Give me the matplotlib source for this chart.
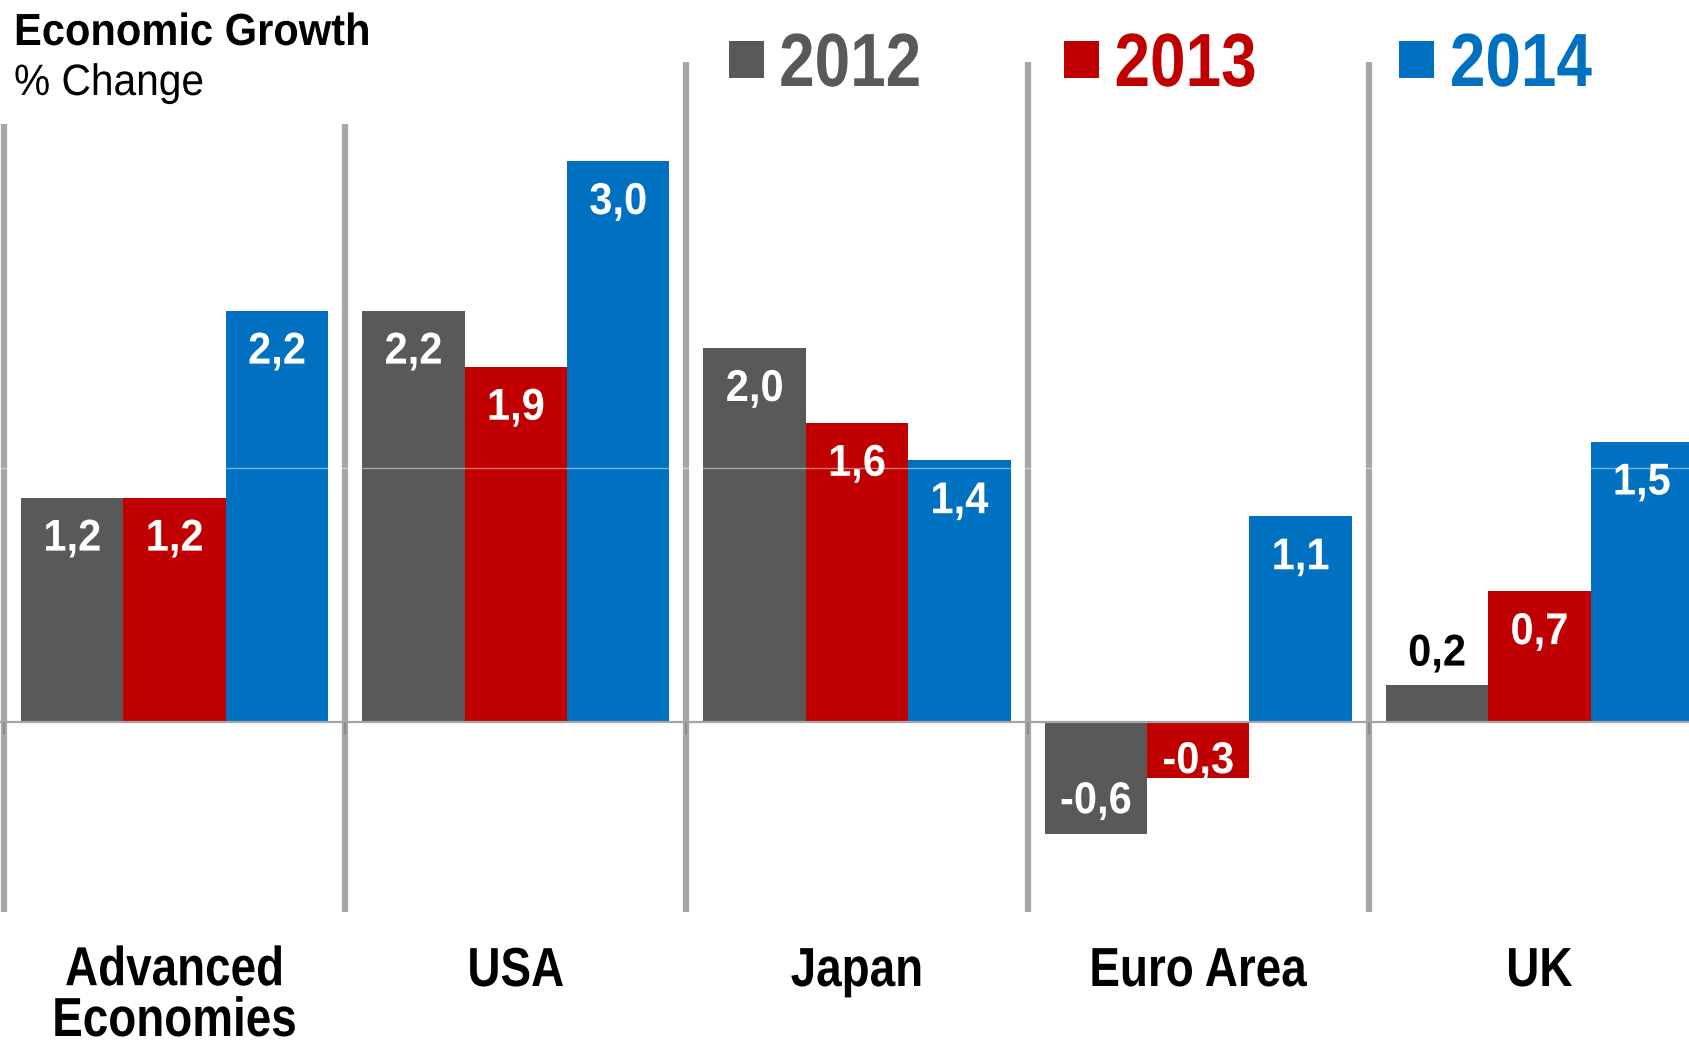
import matplotlib
matplotlib.use("Agg")
import matplotlib.pyplot as plt
from matplotlib.patches import Rectangle
from matplotlib.patheffects import AbstractPathEffect
from matplotlib.transforms import Affine2D, blended_transform_factory

# ---- data -------------------------------------------------------------
categories = ["Advanced\nEconomies", "USA", "Japan", "Euro Area", "UK"]
years = ["2012", "2013", "2014"]
growth_2012 = [1.2, 2.2, 2.0, -0.6, 0.2]
growth_2013 = [1.2, 1.9, 1.6, -0.3, 0.7]
growth_2014 = [2.2, 3.0, 1.4, 1.1, 1.5]
series = [growth_2012, growth_2013, growth_2014]
colors = ["#595959", "#C00000", "#0070C0"]

plt.rcParams["font.family"] = ["Liberation Sans", "DejaVu Sans"]


class GlyphScale(AbstractPathEffect):
    """Scale glyph outlines about the ink centre (x) and the baseline (y)."""

    def __init__(self, sx=1.0, sy=1.0):
        super().__init__()
        self._sx, self._sy = sx, sy

    def draw_path(self, renderer, gc, tpath, affine, rgbFace=None):
        ext = tpath.get_extents()
        cx = 0.5 * (ext.x0 + ext.x1)
        scale = Affine2D().translate(-cx, 0).scale(self._sx, self._sy).translate(cx, 0)
        renderer.draw_path(gc, tpath, scale + affine, rgbFace)


def fmt(v):
    return f"{v:.1f}".replace(".", ",")


W, H = 1690, 1047
fig = plt.figure(figsize=(W / 100, H / 100), dpi=100)
ax = fig.add_axes([0, 0, 1, 1])
ax.set_xlim(-0.5117, 4.4415)
ax.set_ylim(-1.738, 3.861)
ax.axis("off")

n = len(categories)
width = 0.3
offsets = [-width, 0.0, width]

# group separators
sep_x = [i - 0.5 for i in range(n)]
ax.vlines(sep_x[:2], -1.016, 3.198, color="#a6a6a6", lw=4.5, zorder=1)
ax.vlines(sep_x[2:], -1.016, 3.529, color="#a6a6a6", lw=4.5, zorder=1)

# bars
for j, vals in enumerate(series):
    xs = [i + offsets[j] for i in range(n)]
    ax.bar(xs, vals, width=width, color=colors[j], linewidth=0, zorder=2)

# faint gridline and zero line
ax.axhline(1.36, color="white", alpha=0.45, lw=1.0, zorder=2.5)
ax.axhline(0, color="#a6a6a6", lw=1.6, zorder=3)
ax.vlines(sep_x, 0, -0.07, color="#8c8c8c", lw=1.5, zorder=3)

# value labels
label_fx = [GlyphScale(1.0, 1.07)]
for j, vals in enumerate(series):
    for i, v in enumerate(vals):
        x = i + offsets[j]
        if v >= 0.5:
            dy, col = -42, "white"
        elif v > 0:
            dy, col = 30, "black"
        elif v <= -0.5:
            dy, col = 32, "white"
        else:
            dy, col = 16, "white"
        t = ax.annotate(fmt(v), xy=(x, v), xytext=(0, dy), textcoords="offset pixels",
                        ha="center", va="center", fontsize=30, fontweight="bold",
                        color=col, zorder=5)
        t.set_path_effects(label_fx)

# category labels: first line's baseline sits on a common row
cat_tr = blended_transform_factory(ax.transData, fig.transFigure)
for i, name in enumerate(categories):
    extra_lines = name.count("\n")
    t = ax.text(i, 1 - (986 + 50 * extra_lines) / H, name, transform=cat_tr,
                ha="center", va="baseline", fontsize=33, fontweight="bold",
                color="black", linespacing=1.2)
    t.set_path_effects([GlyphScale(1.0, 1.2)])

# title
t = fig.text(14 / W, 1 - 45 / H, "Economic Growth", fontsize=30, fontweight="bold",
             ha="left", va="baseline", color="black")
t.set_path_effects([GlyphScale(1.0, 1.08)])
t = fig.text(14 / W, 1 - 95 / H, "% Change", fontsize=29.3, ha="left", va="baseline",
             color="black")
t.set_path_effects([GlyphScale(1.0, 1.08)])

# legend
for j, yr in enumerate(years):
    left = 728.6 + 335.4 * j
    fig.patches.append(Rectangle((left / W, 1 - 77.6 / H), 35 / W, 36.6 / H,
                                 transform=fig.transFigure, facecolor=colors[j],
                                 edgecolor="none"))
    t = fig.text((left + 121.5) / W, 1 - 86 / H, yr, fontsize=46, fontweight="bold",
                 color=colors[j], ha="center", va="baseline")
    t.set_path_effects([GlyphScale(1.0, 1.18)])

fig.savefig("out.png", dpi=100)
